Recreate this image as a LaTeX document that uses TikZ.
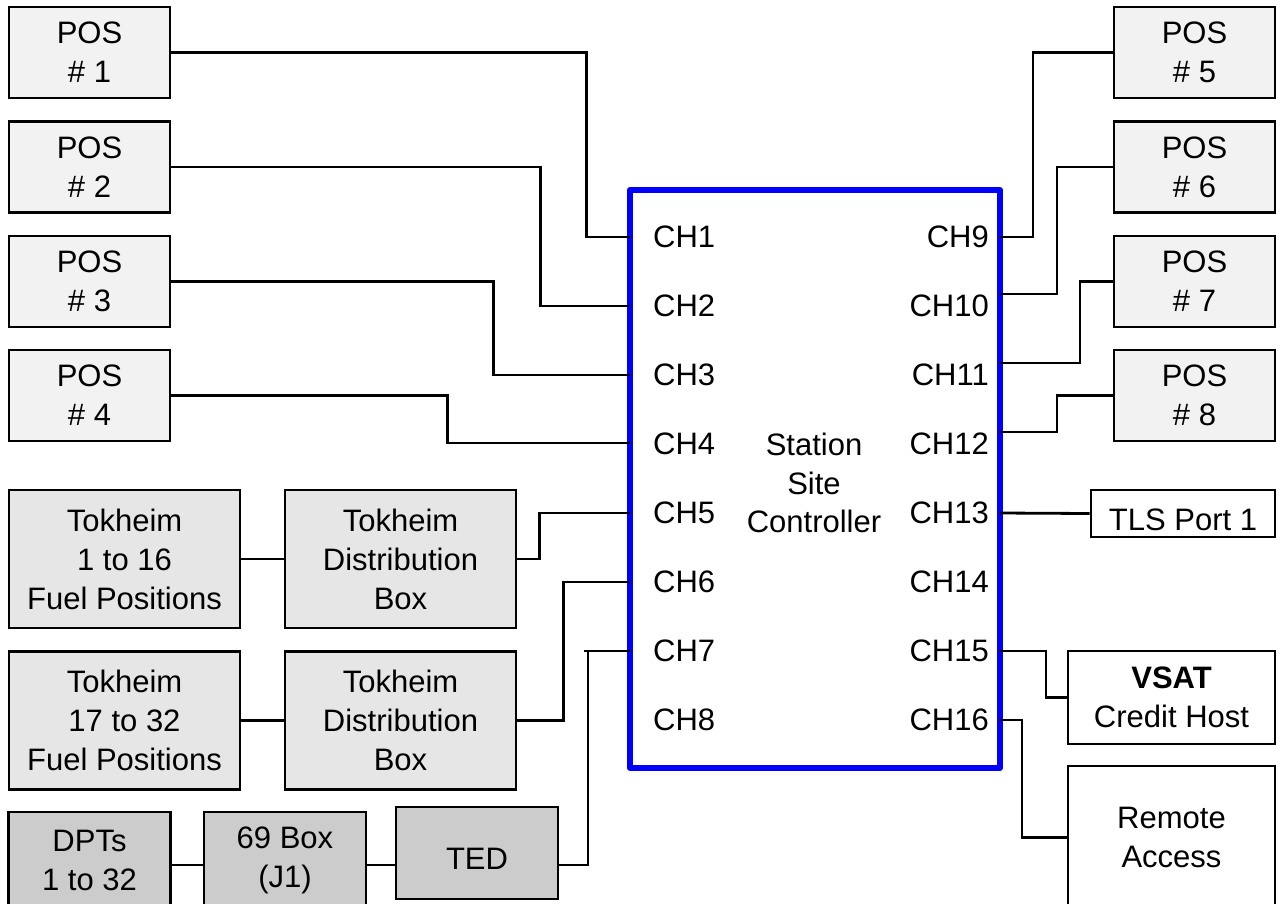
\documentclass[tikz,border=0pt]{standalone}
\usepackage{fontspec}
\setmainfont{Liberation Sans}
\definecolor{posfill}{HTML}{F2F2F2}
\definecolor{tokfill}{HTML}{E6E6E6}
\definecolor{dptfill}{HTML}{CCCCCC}
\definecolor{ctrlblue}{HTML}{0000FF}
\tikzset{
  box/.style={draw, line width=2.8pt, inner sep=0pt, align=center,
    font=\fontsize{31}{39}\selectfont},
  posbox/.style={box, fill=posfill, minimum width=161pt, minimum height=91pt},
  tokbox/.style={box, fill=tokfill, minimum width=231pt, minimum height=138pt},
  dptbox/.style={box, fill=dptfill, minimum width=162pt, minimum height=96pt},
  whitebox/.style={box, fill=white},
  wire/.style={draw, line width=2.8pt, line join=miter},
  chlabel/.style={inner sep=0pt, font=\fontsize{31}{36}\selectfont},
}
\begin{document}
\begin{tikzpicture}[x=1pt, y=-1pt]
\useasboundingbox (0,0) rectangle (1282,903);
\clip (0,0) rectangle (1282,903);
\fill[white] (0,0) rectangle (1282,903);

% controller
\node[draw=ctrlblue, line width=6pt, minimum width=370pt, minimum height=578pt,
      inner sep=0pt, line join=round] (ctrl) at (815,479) {};
\node[inner sep=0pt, align=center, font=\fontsize{31}{38.5}\selectfont] (title) at (814,483)
  {Station\\Site\\Controller};

% ports
\coordinate (p1) at (630,237);
\coordinate (p2) at (630,306);
\coordinate (p3) at (630,375);
\coordinate (p4) at (630,443);
\coordinate (p5) at (630,513);
\coordinate (p6) at (630,582);
\coordinate (p7) at (630,651);
\coordinate (p9) at (1000,237);
\coordinate (p10) at (1000,294);
\coordinate (p11) at (1000,363);
\coordinate (p12) at (1000,432);
\coordinate (p13) at (1000,513);
\coordinate (p15) at (1000,651);
\coordinate (p16) at (1000,720);

% channel labels
\foreach \n/\y in {1/237,2/306,3/375,4/444,5/513,6/582,7/651,8/720}
  \node[chlabel, anchor=west] (lab\n) at (653,\y) {CH\n};
\foreach \n/\y in {9/237,10/306,11/375,12/444,13/513,14/582,15/651,16/720}
  \node[chlabel, anchor=east] (lab\n) at (989,\y) {CH\n};

% left POS
\node[posbox] (pos1) at (89.5,52.5) {POS\\\# 1};
\node[posbox] (pos2) at (89.5,167) {POS\\\# 2};
\node[posbox] (pos3) at (89.5,281.5) {POS\\\# 3};
\node[posbox] (pos4) at (89.5,395.5) {POS\\\# 4};
% right POS
\node[posbox] (pos5) at (1194.5,52.5) {POS\\\# 5};
\node[posbox] (pos6) at (1194.5,167) {POS\\\# 6};
\node[posbox] (pos7) at (1194.5,281.5) {POS\\\# 7};
\node[posbox] (pos8) at (1194.5,395.5) {POS\\\# 8};

% Tokheim
\node[tokbox] (tok1) at (124.5,559) {Tokheim\\1 to 16\\Fuel Positions};
\node[tokbox] (dist1) at (400.5,559) {Tokheim\\Distribution\\Box};
\node[tokbox] (tok2) at (124.5,720.5) {Tokheim\\17 to 32\\Fuel Positions};
\node[tokbox] (dist2) at (400.5,720.5) {Tokheim\\Distribution\\Box};

% DPT chain
\node[dptbox] (dpt) at (89.5,860) {DPTs\\1 to 32};
\node[dptbox] (box69) at (285,860) {69 Box\\(J1)};
\node[dptbox, minimum height=92pt, text height=32pt, text depth=0pt] (ted) at (477,853) {TED};

% right boxes
\node[whitebox, minimum width=184pt, minimum height=47pt, text height=33pt, text depth=0pt] (tls) at (1183,513.5) {TLS Port 1};
\node[whitebox, minimum width=207pt, minimum height=93pt] (vsat) at (1171.5,697.5) {\textbf{VSAT}\\Credit Host};
\node[whitebox, minimum width=207pt, minimum height=143pt] (remote) at (1171.5,837.5) {Remote\\Access};

% left connectors
\draw[wire] (pos1.east) -- ++(415,0) |- (p1);
\draw[wire] (pos2.east) -- ++(369,0) |- (p2);
\draw[wire] (pos3.east) -- ++(322,0) |- (p3);
\draw[wire] (pos4.east) -- ++(276,0) |- (p4);
\draw[wire] (tok1.east) -- (dist1.west);
\draw[wire] (tok2.east) -- (dist2.west);
\draw[wire] (dist1.east) -- ++(22,0) |- (p5);
\draw[wire] (dist2.east) -- ++(46,0) |- (p6);
\draw[wire] (p7) -- ++(-46,0);
\draw[wire] (p7) ++(-42,0) |- ([yshift=-12pt]ted.east);
\draw[wire] ([yshift=-5pt]dpt.east) -- ([yshift=-5pt]box69.west);
\draw[wire] ([yshift=-5pt]box69.east) -- ([yshift=-12pt]ted.west);

% right connectors
\draw[wire] (p9) -- ++(33,0) |- (pos5.west);
\draw[wire] (p10) -- ++(57,0) |- (pos6.west);
\draw[wire] (p11) -- ++(80,0) |- (pos7.west);
\draw[wire] (p12) -- ++(57,0) |- (pos8.west);
\draw[wire] (p13) -- (tls.west);
\draw[wire] (p15) -- ++(46,0) |- (vsat.west);
\draw[wire] (p16) -- ++(22,0) |- (remote.west);
\end{tikzpicture}
\end{document}
